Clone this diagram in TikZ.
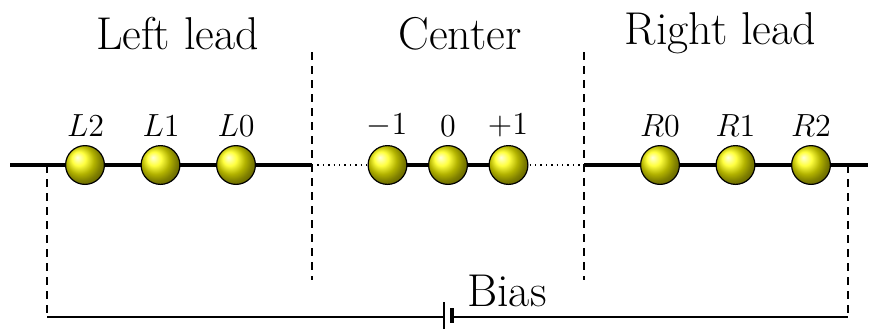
\RequirePackage{fix-cm}
\documentclass[tikz,border=0pt]{standalone}
\usepackage{tikz}
\usetikzlibrary{calc}
\tikzset{
  site/.style={circle,draw=black,line width=0.6pt,ball color=yellow,minimum size=19.4pt,inner sep=0pt,outer sep=0pt},
  biglabel/.style={font=\fontsize{23}{27}\selectfont,inner sep=0pt,anchor=base},
  smalllabel/.style={font=\fontsize{16}{19}\selectfont,inner sep=0pt,anchor=base},
  lead/.style={line width=2.1pt},
  weak/.style={line width=0.7pt,dotted},
  divider/.style={line width=0.7pt,dashed,dash pattern=on 4pt off 3pt},
  wire/.style={line width=0.7pt}
}
\begin{document}
\begin{tikzpicture}[x=0.5pt,y=-0.5pt]
\useasboundingbox (0,0) rectangle (874,329);
% free ends
\coordinate (le) at (10,165);
\coordinate (ld) at (312,165);
\coordinate (rd) at (584,165);
\coordinate (re) at (868,165);
\coordinate (lt) at (47,165);
\coordinate (lb) at (47,317);
\coordinate (rt) at (848,165);
\coordinate (rb) at (848,317);
\coordinate (d1t) at (312,52);
\coordinate (d1b) at (312,280);
\coordinate (d2t) at (584,52);
\coordinate (d2b) at (584,280);
\coordinate (bn) at (444,317);
\coordinate (bp) at (452,317);
\coordinate (bnt) at (444,302);
\coordinate (bnb) at (444,329);
\coordinate (bpt) at (452,308);
\coordinate (bpb) at (452,323);
% wires under the balls
\draw[lead] (le) -- (ld);
\draw[lead] (rd) -- (re);
\draw[lead] (387,165) -- (508,165);
\draw[weak] (ld) -- (387,165);
\draw[weak] (508,165) -- (rd);
\draw[divider] (d1t) -- (d1b);
\draw[divider] (d2t) -- (d2b);
\draw[divider] (lt) -- (lb);
\draw[divider] (rt) -- (rb);
\draw[wire] (lb) -- (bn);
\draw[wire] (bp) -- (rb) ;
\draw[line width=0.7pt] (bnt) -- (bnb);
\draw[line width=2pt] (bpt) -- (bpb);
% sites
\node[site] (l2) at (85,165) {};
\node[site] (l1) at (160.5,165) {};
\node[site] (l0) at (236,165) {};
\node[site] (cm) at (387.5,165) {};
\node[site] (c0) at (448,165) {};
\node[site] (cp) at (508.5,165) {};
\node[site] (r0) at (660,165) {};
\node[site] (r1) at (735.5,165) {};
\node[site] (r2) at (811,165) {};
% labels
\node[smalllabel] (tl2) at (85.5,136) {$L2$};
\node[smalllabel] (tl1) at (161,136) {$L1$};
\node[smalllabel] (tl0) at (236,136) {$L0$};
\node[smalllabel] (tcm) at (387,134) {$-1$};
\node[smalllabel] (tc0) at (448,136) {$0$};
\node[smalllabel] (tcp) at (508,134) {$+1$};
\node[smalllabel] (tr0) at (660,136) {$R0$};
\node[smalllabel] (tr1) at (735.5,136) {$R1$};
\node[smalllabel] (tr2) at (811,136) {$R2$};
\node[biglabel] (ll) at (177.5,49) {Left lead};
\node[biglabel] (cc) at (460,49) {Center};
\node[biglabel] (rl) at (720.5,44) {Right lead};
\node[biglabel] (bias) at (507,306) {Bias};
\end{tikzpicture}
\end{document}
